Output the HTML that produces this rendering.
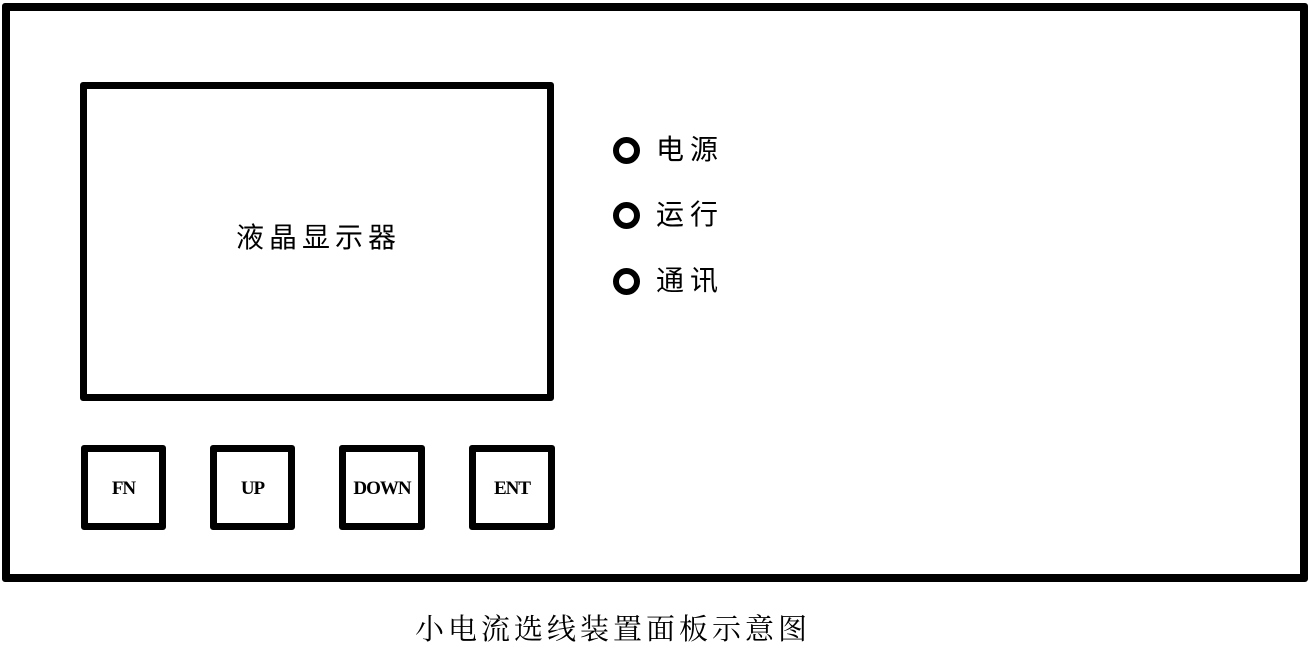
<!DOCTYPE html>
<html><head><meta charset="utf-8"><style>
body{margin:0;width:1310px;height:643px;background:#fff;position:relative;overflow:hidden;font-family:"Liberation Serif","Noto Serif CJK SC",serif}
.b{position:absolute;border:7px solid #000;border-radius:3px;box-sizing:border-box}
.t{position:absolute;white-space:nowrap;color:#000}
.btn{display:flex;align-items:center;justify-content:center;font-weight:bold;font-size:19px;letter-spacing:-1px;font-family:"Liberation Serif",serif;padding-top:2px}
.led{position:absolute;width:27px;height:27px;border:6px solid #000;border-radius:50%;box-sizing:border-box}
.lt{position:absolute;font-family:"Liberation Sans","Noto Sans CJK SC",sans-serif;font-size:28px;letter-spacing:6px;line-height:30px}
</style></head><body>
<div class="b" style="left:2px;top:3px;width:1306px;height:579px;border-width:8px"></div>
<div class="b" style="left:80px;top:82px;width:474px;height:319px"></div>
<div class="t" style="left:236px;top:216px;font-size:28px;font-family:'Liberation Sans','Noto Sans CJK SC',sans-serif;letter-spacing:5px">液晶显示器</div>
<div class="b btn" style="left:81px;top:445px;width:85px;height:85px">FN</div>
<div class="b btn" style="left:210px;top:445px;width:85px;height:85px">UP</div>
<div class="b btn" style="left:339px;top:445px;width:86px;height:85px">DOWN</div>
<div class="b btn" style="left:469px;top:445px;width:86px;height:85px">ENT</div>
<div class="led" style="left:613px;top:137px"></div><div class="lt" style="left:656px;top:135px">电源</div>
<div class="led" style="left:613px;top:202px"></div><div class="lt" style="left:656px;top:200px">运行</div>
<div class="led" style="left:613px;top:268px"></div><div class="lt" style="left:656px;top:266px">通讯</div>
<div class="t" style="left:415px;top:607px;font-size:29px;letter-spacing:4px;font-family:'Liberation Serif','Noto Serif CJK SC',serif">小电流选线装置面板示意图</div>
</body></html>
